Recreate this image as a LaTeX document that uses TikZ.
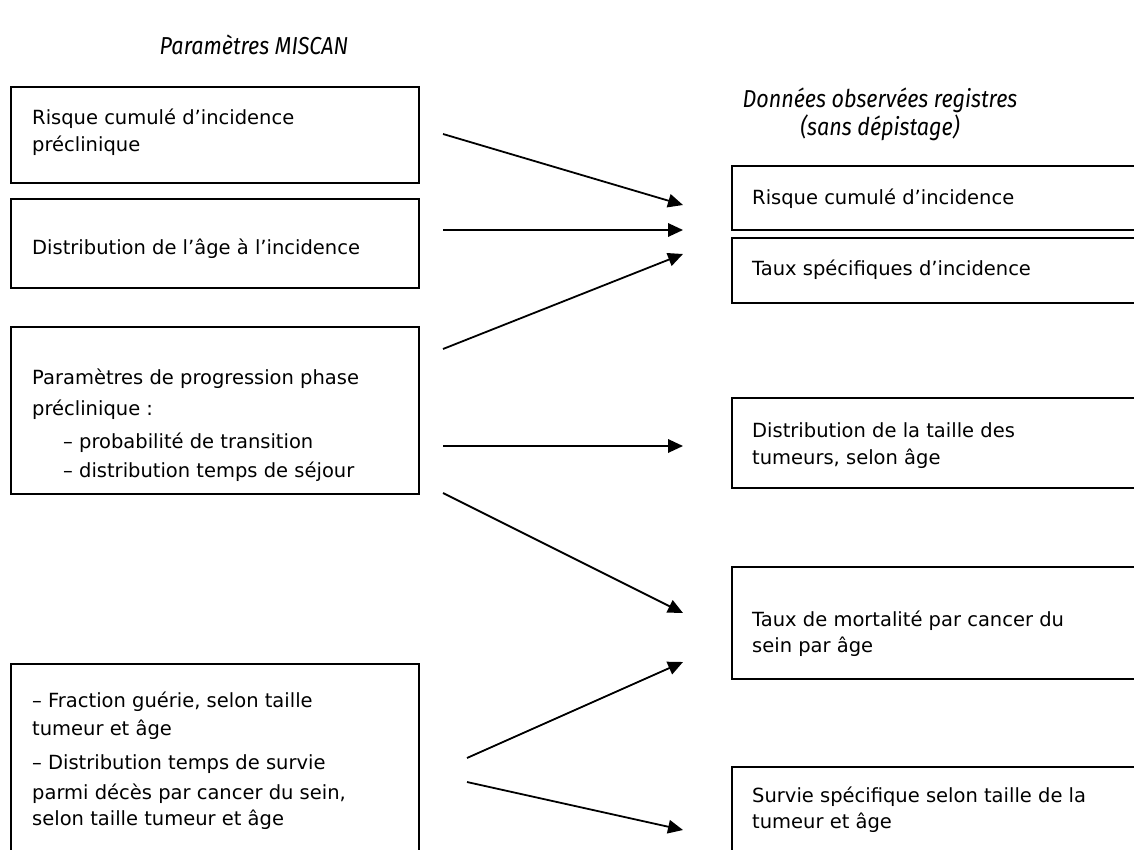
\documentclass[tikz,border=0pt]{standalone}
\usepackage{fontspec}
\setmainfont{DejaVu Sans}
\newfontfamily\titlefont[FakeStretch=0.88]{Fira Sans}
\usetikzlibrary{arrows.meta}
\begin{document}
\begin{tikzpicture}[x=1pt,y=-1pt,
  box/.style={draw, line width=1.8pt, anchor=north west, inner sep=0pt},
  txt/.style={anchor=north west, align=left, inner sep=0pt, font=\fontsize{19.5}{26}\selectfont},
  ttl/.style={font=\titlefont\itshape\fontsize{24.5}{28}\selectfont, align=center, inner sep=0pt},
  arr/.style={line width=1.8pt, -{Triangle[length=15pt,width=13.5pt]}}]
\useasboundingbox (0,0) rectangle (1134,850);
\clip (0,0) rectangle (1134,850);
\fill[white] (0,0) rectangle (1134,850);

% titles
\node[ttl] (tleft) at (254,45) {Paramètres MISCAN};
\node[ttl] (tright) at (880,114) {Données observées registres\\(sans dépistage)};

% left boxes
\node[box, minimum width=408pt, minimum height=96pt] (l1) at (10,86) {};
\node[box, minimum width=408pt, minimum height=89pt] (l2) at (10,198) {};
\node[box, minimum width=408pt, minimum height=167pt] (l3) at (10,326) {};
\node[box, minimum width=408pt, minimum height=250pt] (l4) at (10,663) {};

% right boxes (clipped at the right / bottom)
\node[box, minimum width=450pt, minimum height=64pt] (r1) at (731,165) {};
\node[box, minimum width=450pt, minimum height=65pt] (r2) at (731,237) {};
\node[box, minimum width=450pt, minimum height=90pt] (r3) at (731,397) {};
\node[box, minimum width=450pt, minimum height=112pt] (r4) at (731,566) {};
\node[box, minimum width=450pt, minimum height=150pt] (r5) at (731,766) {};

% texts
\node[txt] (tl1) at (32,109) {Risque cumulé d’incidence\\[1pt]préclinique};
\node[txt] (tl2) at (32,239) {Distribution de l’âge à l’incidence};
\node[txt] (tl3) at (32,369) {Paramètres de progression phase\\[5pt]préclinique :\\[7pt]\hspace*{31pt}– probabilité de transition\\[3pt]\hspace*{31pt}– distribution temps de séjour};
\node[txt] (tl4) at (32,692) {– Fraction guérie, selon taille\\[2pt]tumeur et âge\\[8pt]– Distribution temps de survie\\[4pt]parmi décès par cancer du sein,\\selon taille tumeur et âge};
\node[txt] (tr1) at (752,189) {Risque cumulé d’incidence};
\node[txt] (tr2) at (752,260) {Taux spécifiques d’incidence};
\node[txt] (tr3) at (752,422) {Distribution de la taille des\\[1pt]tumeurs, selon âge};
\node[txt] (tr4) at (752,611) {Taux de mortalité par cancer du\\sein par âge};
\node[txt] (tr5) at (752,787) {Survie spécifique selon taille de la\\tumeur et âge};

% arrow end points
\coordinate (a1s) at (443,134); \coordinate (a1e) at (683,205);
\coordinate (a2s) at (443,230); \coordinate (a2e) at (683,230);
\coordinate (a3s) at (443,349); \coordinate (a3e) at (683,254);
\coordinate (a4s) at (443,446); \coordinate (a4e) at (683,446);
\coordinate (a5s) at (443,493); \coordinate (a5e) at (683,613);
\coordinate (a6s) at (467,758); \coordinate (a6e) at (683,662);
\coordinate (a7s) at (467,782); \coordinate (a7e) at (683,830);

\draw[arr] (a1s) -- (a1e);
\draw[arr] (a2s) -- (a2e);
\draw[arr] (a3s) -- (a3e);
\draw[arr] (a4s) -- (a4e);
\draw[arr] (a5s) -- (a5e);
\draw[arr] (a6s) -- (a6e);
\draw[arr] (a7s) -- (a7e);
\end{tikzpicture}
\end{document}
